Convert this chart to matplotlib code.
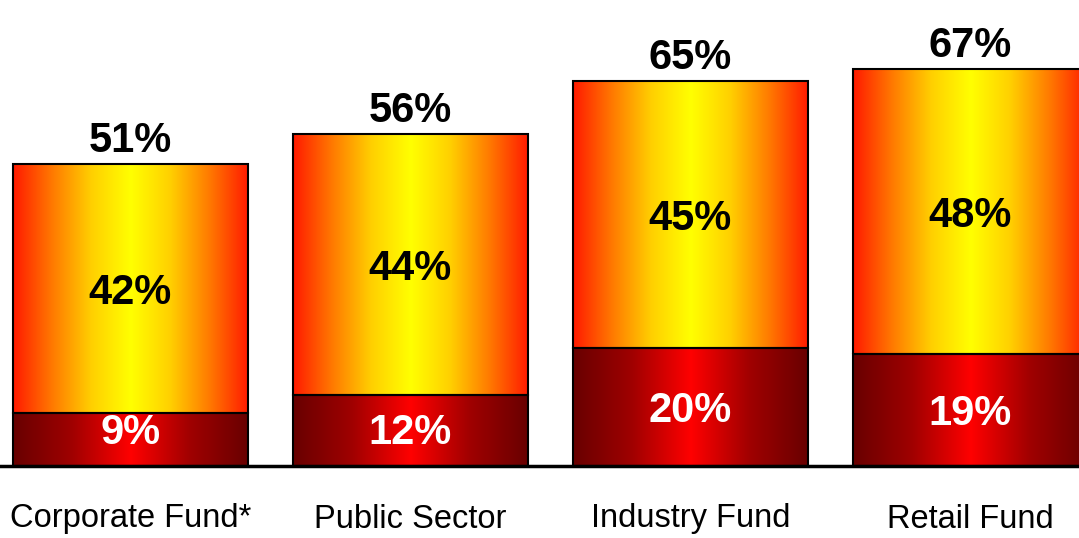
import numpy as np
import matplotlib.pyplot as plt
from matplotlib.colors import LinearSegmentedColormap

plt.rcParams['font.family'] = ['Liberation Sans', 'DejaVu Sans']

# Данные
categories = ["Corporate Fund*", "Public Sector", "Industry Fund", "Retail Fund"]
bottom_vals = [9, 12, 20, 19]
top_vals = [42, 44, 45, 48]
totals = [51, 56, 65, 67]

BAR_W = 0.84
PX = 5.92  # пикселей на 1%
HALF_DIGIT = 15.5 / PX  # половина высоты цифр в единицах оси

# Градиенты: края -> центр -> края
cmap_top = LinearSegmentedColormap.from_list(
    "top", ["#ff1a00", "#ff7a00", "#ffd000", "#ffff00", "#ffd000", "#ff7a00", "#ff1a00"])
cmap_bot = LinearSegmentedColormap.from_list(
    "bot", ["#680000", "#a00000", "#ff0000", "#a00000", "#680000"])
grad = np.linspace(0, 1, 256).reshape(1, -1)

fig = plt.figure(figsize=(10.79, 5.38), dpi=100)
ax = fig.add_axes([0, 72 / 538, 1, 466 / 538])

x = np.arange(len(categories))
for i in range(len(categories)):
    x0 = x[i] - BAR_W / 2
    x1 = x[i] + BAR_W / 2
    b = bottom_vals[i]
    t = top_vals[i]
    ax.imshow(grad, extent=(x0, x1, 0, b), cmap=cmap_bot, aspect='auto',
              interpolation='bilinear', zorder=1)
    ax.imshow(grad, extent=(x0, x1, b, b + t), cmap=cmap_top, aspect='auto',
              interpolation='bilinear', zorder=1)

ax.bar(x, bottom_vals, BAR_W, facecolor='none', edgecolor='black', linewidth=1.5, zorder=2)
ax.bar(x, top_vals, BAR_W, bottom=bottom_vals, facecolor='none', edgecolor='black',
       linewidth=1.5, zorder=2)

for i in range(len(categories)):
    yb = max(bottom_vals[i] / 2, 6.4)
    ax.text(x[i], yb - HALF_DIGIT, "%d%%" % bottom_vals[i], ha='center', va='baseline',
            color='white', fontsize=30, fontweight='bold', zorder=3)
    yt = bottom_vals[i] + top_vals[i] / 2
    ax.text(x[i], yt - HALF_DIGIT, "%d%%" % top_vals[i], ha='center',
            va='baseline', color='black', fontsize=30, fontweight='bold', zorder=3)
    ax.text(x[i], totals[i] + 12 / PX, "%d%%" % totals[i], ha='center', va='baseline',
            color='black', fontsize=30, fontweight='bold', zorder=3)

ax.set_xlim(-130.5 / 280, (1079 - 130.5) / 280)
ax.set_ylim(0, 466 / PX)

for s in ['top', 'right', 'left']:
    ax.spines[s].set_visible(False)
ax.spines['bottom'].set_linewidth(2.5)
ax.set_yticks([])
ax.set_xticks(x)
ax.set_xticklabels(categories, fontsize=23.5)
ax.tick_params(axis='x', length=0, pad=27)

fig.savefig("out.png", dpi=100)
